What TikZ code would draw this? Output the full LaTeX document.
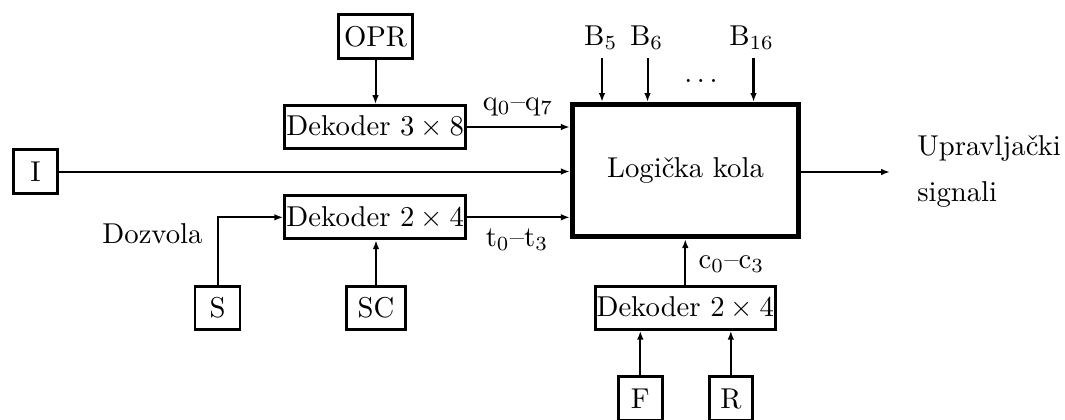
\documentclass[tikz,border=0pt]{standalone}
\usetikzlibrary{arrows.meta}
\begin{document}
\begin{tikzpicture}[x=0.3484pt,y=-0.3484pt,
  box/.style={draw,line width=1pt,inner sep=0.5pt,minimum height=15pt},
  dek/.style={box,minimum width=63.1pt},
  big/.style={draw,line width=1.7pt,minimum width=78.9pt,minimum height=46.1pt},
  lbl/.style={inner sep=0pt,anchor=base},
  conn/.style={line width=0.7pt,-{Latex[length=3.1pt,width=2.3pt]}},
  thickconn/.style={conn,line width=1pt},
  midconn/.style={conn,line width=0.85pt}]
\clip (0,0) rectangle (1065,419);
% boxes
\node[box,minimum width=25.8pt,minimum height=15.4pt] (opr) at (375.5,36.3) {OPR};
\node[dek] (dek38) at (375.2,127) {Dekoder $3\times 8$};
\node[box,minimum width=15.4pt,minimum height=15.4pt] (I) at (35.5,171.5) {I};
\node[dek] (dek24) at (375.2,217.3) {Dekoder $2\times 4$};
\node[box,minimum width=15.7pt] (S) at (217.5,308) {S};
\node[box,minimum width=20.6pt] (SC) at (376,308) {SC};
\node[big] (logic) at (685.5,170.5) {Logička kola};
\node[box,minimum width=62.7pt] (dekc) at (685.3,307.8) {Dekoder $2\times 4$};
\node[box,minimum width=15.5pt,minimum height=15.4pt] (F) at (640.3,398.5) {F};
\node[box,minimum width=15.1pt,minimum height=15.4pt] (R) at (730.8,398.5) {R};
% labels
\node[lbl] (q) at (518,110) {q$_0$--q$_7$};
\node[lbl] (t) at (517,246) {t$_0$--t$_3$};
\node[lbl] (c) at (731.5,268) {c$_0$--c$_3$};
\node[lbl] (b5) at (600.8,45) {B$_5$};
\node[lbl] (b6) at (646.7,45) {B$_6$};
\node[lbl] (b16) at (751.7,45) {B$_{16}$};
\node[lbl] (dots) at (701,82) {$\ldots$};
\node[lbl] (doz) at (152.5,243) {Dozvola};
\node[inner sep=0pt,anchor=base west,align=left] (upr) at (916.7,201.5) {Upravljački\\[3.9pt]signali};
% connector end points
\coordinate (b5s) at (602,58);
\coordinate (b6s) at (647.5,58);
\coordinate (b16s) at (753.5,58);
\coordinate (out) at (890,172);
% connectors
\draw[conn] (opr.south) -- (opr.south |- dek38.north);
\draw[thickconn] (dek38.east) -- (dek38.east -| logic.west);
\draw[conn] (I.east) -- (I.east -| logic.west);
\draw[conn] (dek24.east) -- (dek24.east -| logic.west);
\draw[conn] (S.north) |- (dek24.west);
\draw[conn] (SC.north) -- (SC.north |- dek24.south);
\draw[conn] (dekc.north) -- (dekc.north |- logic.south);
\draw[conn] (F.north) -- (F.north |- dekc.south);
\draw[conn] (R.north) -- (R.north |- dekc.south);
\draw[midconn] (b5s) -- (b5s |- logic.north);
\draw[conn] (b6s) -- (b6s |- logic.north);
\draw[midconn] (b16s) -- (b16s |- logic.north);
\draw[conn] (logic.east |- out) -- (out);
\end{tikzpicture}
\end{document}
